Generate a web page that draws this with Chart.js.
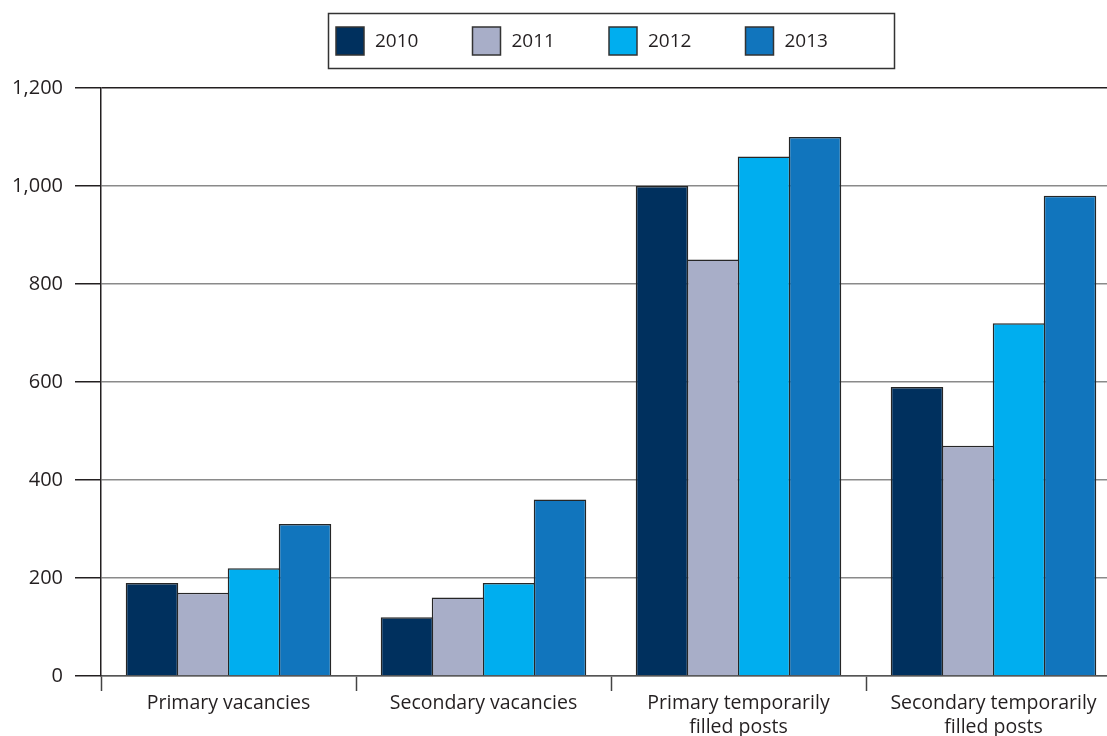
<!DOCTYPE html>
<html>
<head>
<meta charset="utf-8">
<script src="https://cdn.jsdelivr.net/npm/chart.js@4.4.1/dist/chart.umd.min.js"></script>
<style>
  html, body { margin: 0; padding: 0; background: #fff; overflow: hidden; }
  canvas { display: block; }
</style>
</head>
<body>
<canvas id="vacChart" width="1121" height="736"></canvas>
<script>
// 数据
var categories = [['Primary vacancies'], ['Secondary vacancies'], ['Primary temporarily', 'filled posts'], ['Secondary temporarily', 'filled posts']];
var years = ['2010', '2011', '2012', '2013'];
var values2010 = [190, 120, 1000, 590];
var values2011 = [170, 160, 850, 470];
var values2012 = [220, 190, 1060, 720];
var values2013 = [310, 360, 1100, 980];
var yMin = 0, yMax = 1200, yStep = 200;

var colors = ['#00305e', '#a8aec8', '#00aeef', '#1175bd'];
var textColor = '#231f20';
var fontFamily = '"Open Sans", "Noto Sans", sans-serif';

// 图例（带边框）
var legendBox = {
    id: 'legendBox',
    afterDraw: function (chart) {
        var ctx = chart.ctx, a = chart.chartArea;
        var w = 566, h = 55, top = 13;
        var left = Math.round((a.left + a.right) / 2 - w / 2);
        ctx.save();
        ctx.strokeStyle = '#333';
        ctx.lineWidth = 1.5;
        ctx.strokeRect(left + 0.5, top + 0.5, w, h);
        ctx.font = '19px ' + fontFamily;
        ctx.textBaseline = 'middle';
        chart.data.datasets.forEach(function (ds, i) {
            var x = left + 8 + i * 136.5;
            ctx.fillStyle = ds.backgroundColor;
            ctx.fillRect(x, top + 14, 28, 28);
            ctx.strokeStyle = '#333';
            ctx.lineWidth = 1.5;
            ctx.strokeRect(x, top + 14, 28, 28);
            ctx.fillStyle = textColor;
            ctx.fillText(ds.label, x + 39, top + 29);
        });
        ctx.restore();
    }
};

var seriesValues = [values2010, values2011, values2012, values2013];

var ctx = document.getElementById('vacChart').getContext('2d');
var vacChart = new Chart(ctx, {
    type: 'bar',
    data: {
        labels: categories,
        datasets: years.map(function (y, i) {
            return {
                label: y,
                data: seriesValues[i],
                backgroundColor: colors[i],
                borderColor: '#262626',
                borderWidth: 1.5,
                barPercentage: 1.03, // 略微重叠，避免柱间白缝
                categoryPercentage: 0.8
            };
        })
    },
    options: {
        responsive: false,
        animation: false,
        layout: { padding: { top: 88, right: 0, left: 0, bottom: 0 } },
        plugins: {
            legend: { display: false },
            tooltip: { enabled: false }
        },
        scales: {
            x: {
                offset: true,
                grid: {
                    offset: true,
                    drawOnChartArea: false,
                    drawTicks: true,
                    tickLength: 15,
                    tickColor: '#444',
                    tickWidth: 1.5
                },
                border: { display: true, color: '#555', width: 1.5 },
                ticks: {
                    color: textColor,
                    padding: 0,
                    maxRotation: 0,
                    autoSkip: false,
                    font: { family: fontFamily, size: 19.5, lineHeight: 1.25 }
                },
                afterFit: function (scale) { scale.height = 60; }
            },
            y: {
                min: yMin,
                max: yMax,
                grid: {
                    color: function (c) { return c.tick && c.tick.value === yMax ? '#231f20' : '#8a8a8a'; },
                    lineWidth: 1.5,
                    drawTicks: true,
                    tickLength: 26,
                    tickColor: '#231f20'
                },
                border: { display: true, color: '#231f20', width: 1.5 },
                ticks: {
                    stepSize: yStep,
                    color: textColor,
                    padding: 12,
                    font: { family: fontFamily, size: 20 }
                },
                afterFit: function (scale) { scale.width = 101; }
            }
        }
    },
    plugins: [legendBox]
});
</script>
</body>
</html>
